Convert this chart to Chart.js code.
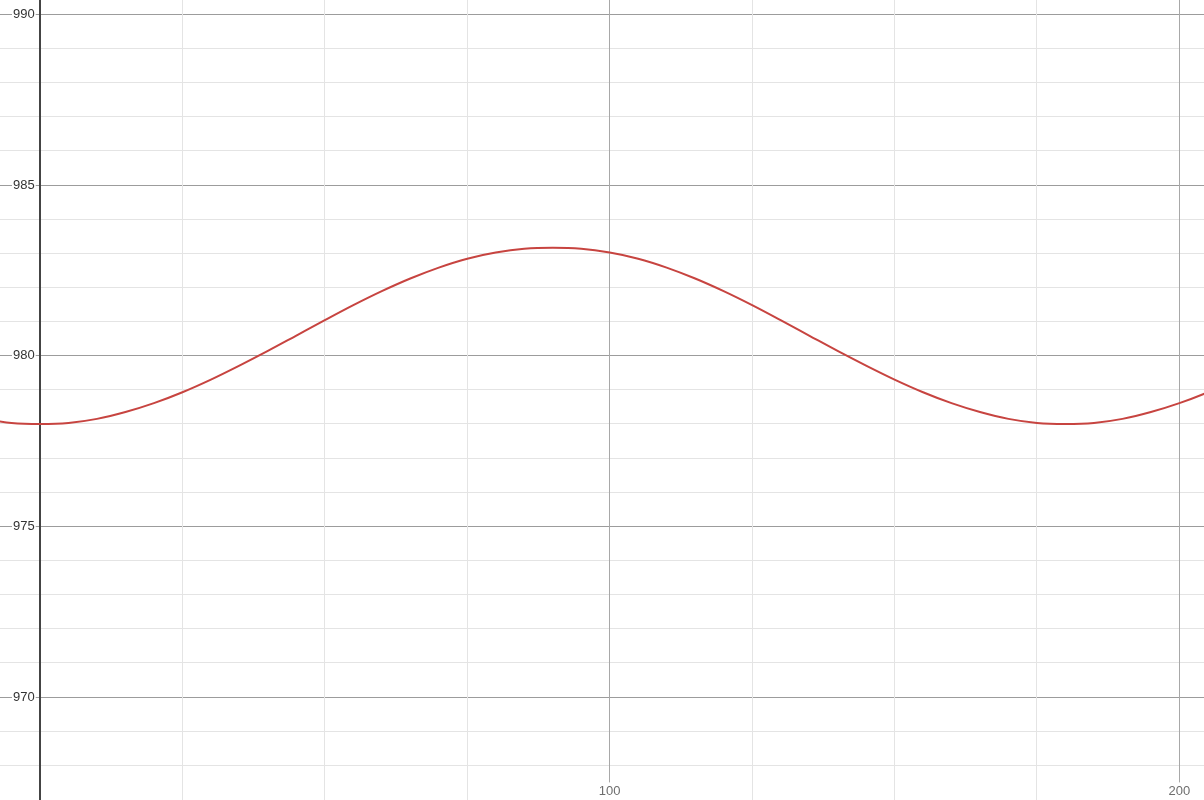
<!DOCTYPE html>
<html>
<head>
<meta charset="utf-8">
<script src="https://cdn.jsdelivr.net/npm/chart.js@4.4.1/dist/chart.umd.min.js"></script>
<style>
  html, body { margin: 0; padding: 0; background: #ffffff; overflow: hidden; }
  #wrap { width: 1204px; height: 800px; }
</style>
</head>
<body>
<div id="wrap"><canvas id="c" width="1204" height="800"></canvas></div>
<script>
// ---- data ----
const xValues = [-10, -5, 0, 5, 10, 15, 20, 25, 30, 35, 40, 45, 50, 55, 60, 65, 70, 75, 80, 85, 90,
                 95, 100, 105, 110, 115, 120, 125, 130, 135, 140, 145, 150, 155, 160, 165, 170, 175, 180,
                 185, 190, 195, 200, 205, 210];
const yValues = [978.15, 978.03, 978.00, 978.03, 978.15, 978.35, 978.61, 978.93, 979.30, 979.71, 980.14, 980.59, 981.04, 981.48, 981.89, 982.26, 982.58, 982.84, 983.02, 983.13, 983.16,
                 983.13, 983.02, 982.84, 982.58, 982.26, 981.89, 981.48, 981.04, 980.59, 980.14, 979.71, 979.30, 978.93, 978.61, 978.35, 978.15, 978.03, 978.00,
                 978.03, 978.15, 978.35, 978.61, 978.93, 979.30];
const xLabelValues = [100, 200];
const yLabelValues = [970, 975, 980, 985, 990];

const points = xValues.map((x, i) => ({ x: x, y: yValues[i] }));

const noPad = s => { s.paddingTop = 0; s.paddingBottom = 0; s.paddingLeft = 0; s.paddingRight = 0; };

new Chart(document.getElementById('c'), {
  type: 'line',
  data: {
    datasets: [{
      data: points,
      borderColor: '#c74440',
      borderWidth: 2,
      pointRadius: 0,
      pointHoverRadius: 0,
      fill: false,
      cubicInterpolationMode: 'monotone'
    }]
  },
  options: {
    responsive: false,
    animation: false,
    devicePixelRatio: 1,
    layout: { padding: 0 },
    plugins: { legend: { display: false }, tooltip: { enabled: false } },
    events: [],
    scales: {
      x: {
        type: 'linear',
        position: 'bottom',
        min: -7.02,
        max: 204.32,
        border: { display: false },
        grid: {
          z: -1,
          drawTicks: false,
          color: c => c.tick.value === 0 ? '#444444' : (c.tick.value % 100 === 0 ? '#a8a8a8' : '#e4e4e4'),
          lineWidth: c => c.tick.value === 0 ? 2 : 1
        },
        ticks: {
          stepSize: 25,
          includeBounds: false,
          autoSkip: false,
          maxRotation: 0,
          mirror: true,
          padding: 1,
          color: '#6e6e6e',
          font: { family: 'Liberation Sans, Arial, sans-serif', size: 13 },
          callback: v => xLabelValues.includes(v) ? String(v) : '',
          showLabelBackdrop: c => xLabelValues.includes(c.tick.value),
          backdropColor: '#ffffff',
          backdropPadding: 1
        },
        afterFit: s => { s.height = 0; noPad(s); }
      },
      y: {
        type: 'linear',
        position: 'left',
        min: 966.986,
        max: 990.419,
        border: { display: false },
        grid: {
          z: -2,
          drawTicks: false,
          color: c => c.tick.value < 967.5 ? 'rgba(0,0,0,0)' : ((Math.round(c.tick.value) % 5 === 0) ? '#9c9c9c' : '#e4e4e4'),
          lineWidth: 1
        },
        ticks: {
          stepSize: 1,
          includeBounds: false,
          autoSkip: false,
          mirror: true,
          padding: 13,
          color: '#333333',
          font: { family: 'Liberation Sans, Arial, sans-serif', size: 13 },
          callback: v => yLabelValues.includes(Math.round(v)) && Math.abs(v - Math.round(v)) < 1e-6 ? String(Math.round(v)) : '',
          showLabelBackdrop: c => yLabelValues.includes(Math.round(c.tick.value)),
          backdropColor: '#ffffff',
          backdropPadding: 1
        },
        afterFit: s => { s.width = 0; noPad(s); }
      }
    }
  }
});
</script>
</body>
</html>
